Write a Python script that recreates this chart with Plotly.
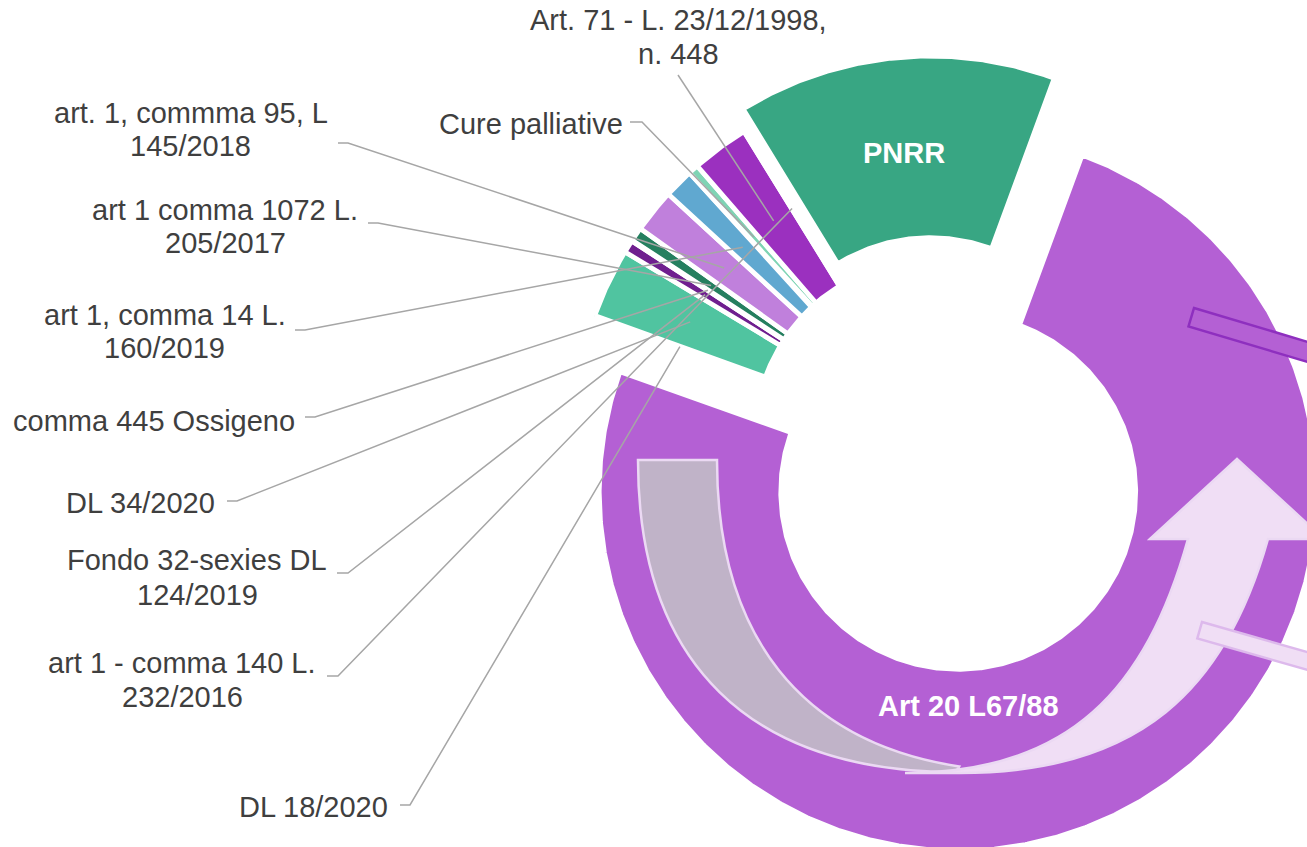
import math
import numpy as np
import plotly.graph_objects as go

# ---------------- data ----------------
slice_labels = [
    "Art 20 L67/88",
    "DL 18/2020",
    "DL 34/2020",
    "Fondo 32-sexies DL 124/2019",
    "comma 445 Ossigeno",
    "art 1 comma 1072 L. 205/2017",
    "art. 1, commma 95, L 145/2018",
    "art 1, comma 14 L. 160/2019",
    "Cure palliative",
    "Art. 71 - L. 23/12/1998, n. 448",
    "art 1 - comma 140 L. 232/2016",
    "PNRR",
]
shares = [74.83, 0.06, 3.13, 0.57, 0.04, 0.63, 1.97, 1.33, 0.46, 2.58, 0.06, 14.35]

# ---------------- style ----------------
slice_colors = ["#B460D4", "#3C8F73", "#50C4A0", "#6F1F8F", "#2E9A78", "#257F5F",
                "#C080DC", "#60A8D0", "#7FD4B4", "#9B30BF", "#7A2A9A", "#38A683"]
explode_px = [60.6, 0, 0, 0, 0, 0, 0, 0, 0, 0, 0, 22.0]
start_deg = 20.2
CX, CY = 932.5, 437.0
R_IN, R_OUT = 177.5, 359.0
GAP = 4.75
W, H = 1307, 847
FONT = "Liberation Sans, Arial, sans-serif"
TXT = "#3F3F3F"
LEADER = "#A6A6A6"

# outside label layout: lines, centre x, first-line y, line step, leader start points
outer_labels = {
    "Art. 71 - L. 23/12/1998, n. 448": (["Art. 71 - L. 23/12/1998,", "n. 448"], 678, 20, 34, [(678, 75)]),
    "Cure palliative": (["Cure palliative"], 530.5, 123.5, 0, [(630, 122), (642, 122)]),
    "art. 1, commma 95, L 145/2018": (["art. 1, commma 95, L", "145/2018"], 190.5, 113, 33, [(338, 143), (348, 143)]),
    "art 1 comma 1072 L. 205/2017": (["art 1 comma 1072 L.", "205/2017"], 225, 210, 32.5, [(368, 223), (378, 223)]),
    "art 1, comma 14 L. 160/2019": (["art 1, comma 14 L.", "160/2019"], 164.5, 315, 33, [(295, 330), (305, 330)]),
    "comma 445 Ossigeno": (["comma 445 Ossigeno"], 153.5, 421, 0, [(305, 417), (315, 417)]),
    "DL 34/2020": (["DL 34/2020"], 140, 503, 0, [(227, 501), (237, 501)]),
    "Fondo 32-sexies DL 124/2019": (["Fondo 32-sexies DL", "124/2019"], 197, 560, 34.5, [(337, 573), (348, 573)]),
    "art 1 - comma 140 L. 232/2016": (["art 1 - comma 140 L.", "232/2016"], 182, 663, 34, [(327, 676), (338, 676)]),
    "DL 18/2020": (["DL 18/2020"], 313, 807, 0, [(400, 805), (410, 805)]),
}

fig = go.Figure()

total = float(sum(shares))
a = start_deg
anchor = {}
R_MID = (R_IN + R_OUT) / 2
for lab, v, col, ex in zip(slice_labels, shares, slice_colors, explode_px):
    span = v / total * 360.0
    a0, a1 = a, a + span
    mid = math.radians((a0 + a1) / 2)
    ox, oy = ex * math.sin(mid), -ex * math.cos(mid)
    n = max(int(span * 3), 2) + 1
    th = np.radians(np.linspace(a0, a1, n))
    xs = np.concatenate([CX + ox + R_OUT * np.sin(th), CX + ox + R_IN * np.sin(th[::-1])])
    ys = np.concatenate([CY + oy - R_OUT * np.cos(th), CY + oy - R_IN * np.cos(th[::-1])])
    xs = np.append(xs, xs[0])
    ys = np.append(ys, ys[0])
    fig.add_trace(go.Scatter(x=xs, y=ys, mode="lines", fill="toself", fillcolor=col,
                             line=dict(color="white", width=GAP), hoverinfo="text",
                             text=f"{lab}: {v}%", showlegend=False))
    anchor[lab] = (CX + ox + R_MID * math.sin(mid), CY + oy - R_MID * math.cos(mid))
    a = a1

annotations = []
# leader lines and outside labels
for lab, (lines, lx, ly, step, pts) in outer_labels.items():
    ex_, ey_ = anchor[lab]
    px = [p[0] for p in pts] + [ex_]
    py = [p[1] for p in pts] + [ey_]
    fig.add_trace(go.Scatter(x=px, y=py, mode="lines", line=dict(color=LEADER, width=1.5),
                             hoverinfo="skip", showlegend=False))
    for i, t in enumerate(lines):
        annotations.append(dict(x=lx, y=ly + i * step, xref="x", yref="y", text=t,
                                showarrow=False, xanchor="center", yanchor="middle",
                                font=dict(family=FONT, size=29, color=TXT)))

# inside labels
px_, py_ = anchor["PNRR"]
annotations.append(dict(x=px_, y=py_ + 5, xref="x", yref="y", text="<b>PNRR</b>", showarrow=False,
                        xanchor="center", yanchor="middle", font=dict(family=FONT, size=29, color="white")))
annotations.append(dict(x=968, y=705.5, xref="x", yref="y", text="<b>Art 20 L67/88</b>", showarrow=False,
                        xanchor="center", yanchor="middle", font=dict(family=FONT, size=29, color="white")))

# decorative drawing shapes (curved arrow + cut block arrows)
shapes = [
    dict(type="path", xref="x", yref="y",
         path="M 638,460 L 717,460 C 717,636.4 801.2,742 959.2,766.5 L 956,772 "
              "C 749.3,772 638,662.8 638,460 Z",
         fillcolor="#C0B3C8", line=dict(color="#EBD9F3", width=2.5), layer="above"),
    dict(type="path", xref="x", yref="y",
         path="M 1150,539 L 1237,459 L 1324,539 L 1268,539 C 1226,689 1140,773 960,773 L 905,773 "
              "C 1070,773 1146,689 1188,539 Z",
         fillcolor="#F0DEF5", line=dict(color="#EBD9F3", width=2.5), layer="above"),
    dict(type="path", xref="x", yref="y",
         path="M 1194,308 L 1400,369.4 L 1394.5,387.8 L 1188.5,326.4 Z",
         fillcolor="#B460D4", line=dict(color="#8E2FBF", width=2.5), layer="above"),
    dict(type="path", xref="x", yref="y",
         path="M 1202,622 L 1400,678.6 L 1395.3,695 L 1197.3,638.4 Z",
         fillcolor="#F0DEF5", line=dict(color="#DDB9EC", width=2.5), layer="above"),
]

fig.update_layout(
    width=W, height=H, margin=dict(l=0, r=0, t=0, b=0),
    paper_bgcolor="white", plot_bgcolor="white",
    xaxis=dict(range=[0, W], visible=False, fixedrange=True),
    yaxis=dict(range=[H, 0], visible=False, fixedrange=True),
    showlegend=False, annotations=annotations, shapes=shapes,
)

fig.write_html("out.html", config={"displayModeBar": False},
               post_script="document.body.style.margin='0px';document.body.style.overflow='hidden';")
